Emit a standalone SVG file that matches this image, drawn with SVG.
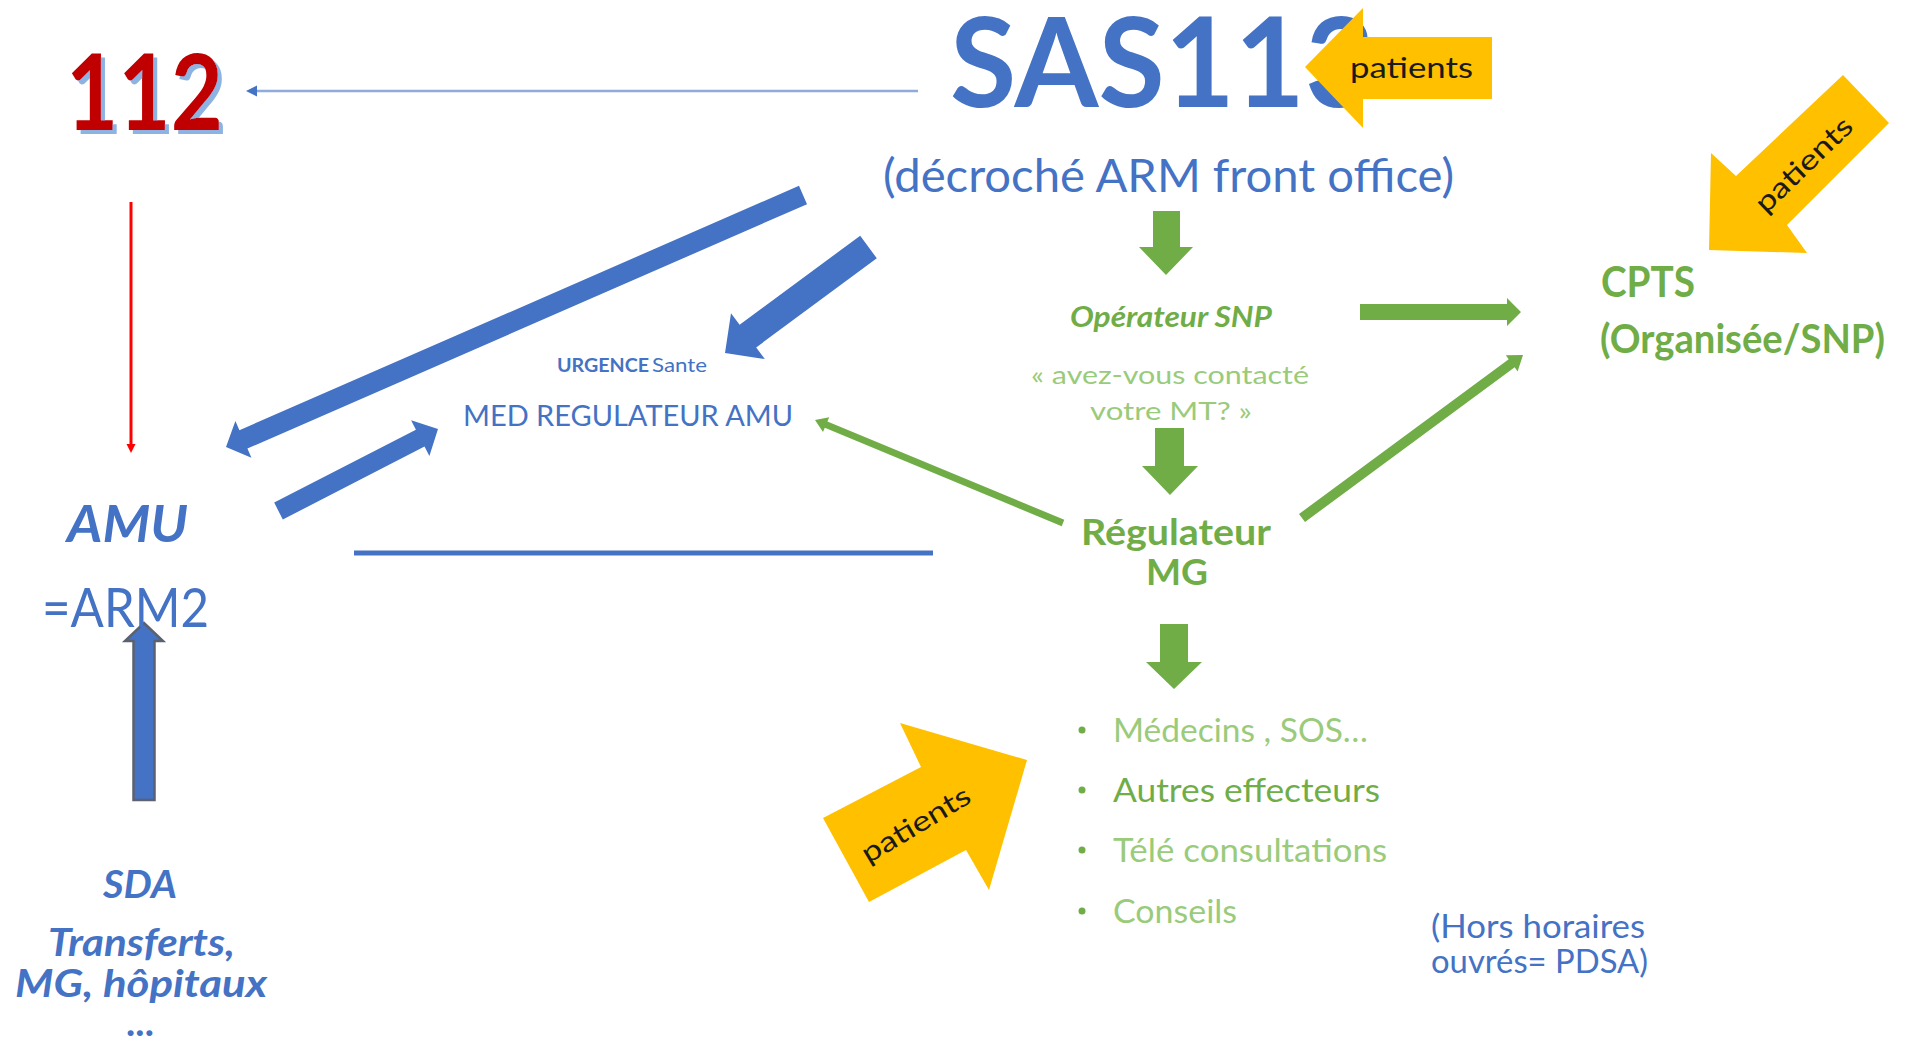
<svg xmlns="http://www.w3.org/2000/svg" width="1905" height="1041" viewBox="0 0 1905 1041">
  <style>
    text { font-family: Lato, "Liberation Sans", sans-serif; }
    .blue { fill: #4472C4; }
    .green { fill: #70AD47; }
    .lightgreen { fill: #9ACB7B; }
    .bold { font-weight: bold; }
    .ital { font-style: italic; }
    .yellow { fill: #FFC000; }
    .ptxt { fill: #1a1a1a; font-size: 28px; }
    .bluearrow { fill: #4472C4; }
    .greenarrow { fill: #70AD47; }
  </style>
  <defs>
    <!-- light blue offset shadow behind the 112 digits -->
    <filter id="blueShadow" x="-10%" y="-10%" width="130%" height="130%">
      <feFlood flood-color="#8DB3E2" result="tint"/>
      <feComposite in="tint" in2="SourceAlpha" operator="in" result="shape"/>
      <feOffset in="shape" dx="4" dy="4" result="shadow"/>
      <feMerge>
        <feMergeNode in="shadow"/>
        <feMergeNode in="SourceGraphic"/>
      </feMerge>
    </filter>
  </defs>

  <rect width="1905" height="1041" fill="#FFFFFF"/>

  <!-- connectors -->
  <g id="connectors">
    <!-- SAS113 to 112 -->
    <line x1="918" y1="91" x2="256" y2="91" stroke="#8FAADC" stroke-width="2.5"/>
    <path d="M246,91 L257,85.5 L257,96.5 Z" fill="#4472C4"/>
    <!-- 112 to AMU -->
    <line x1="131" y1="202" x2="131" y2="446" stroke="#FF0000" stroke-width="3"/>
    <path d="M131,453 L126.5,444 L135.5,444 Z" fill="#FF0000"/>
    <!-- SAS113 to AMU (long block arrow) -->
    <polygon class="bluearrow" points="799.0,185.8 807.0,204.2 247.4,448.6 251.4,457.7 226,447 235.4,421.1 239.4,430.2"/>
    <!-- SAS113 to MED REGULATEUR -->
    <polygon class="bluearrow" points="860.2,235.7 876.8,258.3 756.2,347.4 764.8,359.0 725,353 731.0,313.2 739.6,324.8"/>
    <!-- AMU to MED REGULATEUR -->
    <polygon class="bluearrow" points="274.2,502.6 415.9,429.7 411.1,420.3 438,429 429.4,455.9 424.5,446.6 282.8,519.5"/>
    <!-- AMU to Regulateur MG -->
    <line x1="354" y1="553" x2="933" y2="553" stroke="#4472C4" stroke-width="5"/>
    <!-- SDA to ARM2 -->
    <path d="M133.5,800 L133.5,641 L125,641 L144,623 L163,641 L154.5,641 L154.5,800 Z" fill="#4472C4" stroke="#5B6170" stroke-width="2.5" stroke-linejoin="miter"/>
    <!-- SAS113 down to Operateur SNP -->
    <path class="greenarrow" d="M1153,211 L1180,211 L1180,247 L1193,247 L1166,275 L1139,247 L1153,247 Z"/>
    <!-- Operateur SNP down to Regulateur MG -->
    <path class="greenarrow" d="M1155,428 L1184,428 L1184,466 L1198,466 L1170,495 L1142,466 L1155,466 Z"/>
    <!-- Regulateur MG down to effecteurs -->
    <path class="greenarrow" d="M1160,624 L1188,624 L1188,662 L1202,662 L1174,689 L1146,662 L1160,662 Z"/>
    <!-- Operateur SNP to CPTS -->
    <path class="greenarrow" d="M1360,304 L1507,304 L1507,298 L1521,312 L1507,326 L1507,320 L1360,320 Z"/>
    <!-- Regulateur MG to MED REGULATEUR -->
    <polygon class="greenarrow" points="1064.3,519.8 827.4,421.4 829.2,417.2 815,420 823.0,432.0 824.8,427.8 1061.7,526.2"/>
    <!-- Regulateur MG to CPTS -->
    <polygon class="greenarrow" points="1299.0,514.0 1508.7,359.3 1505.8,355.3 1523,355 1517.6,371.4 1514.7,367.3 1305.0,522.0"/>
  </g>

  <!-- 112 -->
  <g id="node-112">
    <text x="66" y="130" font-family="'Liberation Serif', serif" font-weight="bold" font-size="105" fill="#C00000" filter="url(#blueShadow)" textLength="157" lengthAdjust="spacingAndGlyphs">112</text>
  </g>

  <!-- SAS113 -->
  <g id="node-sas113">
    <text class="blue bold" x="950" y="107" font-size="124" textLength="425" lengthAdjust="spacingAndGlyphs">SAS113</text>
    <text class="blue" x="883" y="192" font-size="46" textLength="571" lengthAdjust="spacingAndGlyphs">(décroché ARM front office)</text>
  </g>

  <!-- patients arriving at SAS113 -->
  <g id="patients-sas">
    <polygon class="yellow" points="1305,67 1363,8 1363,37 1492,37 1492,99 1363,99 1363,128"/>
    <text class="ptxt" x="1350" y="78" font-size="30" textLength="123" lengthAdjust="spacingAndGlyphs">patients</text>
  </g>

  <!-- patients arriving at CPTS -->
  <g id="patients-cpts">
    <polygon class="yellow" points="1843,75 1889,123 1787,225 1807,253 1709,250 1711,153 1736,176"/>
    <text class="ptxt" x="0" y="9" text-anchor="middle" transform="translate(1804,165) rotate(-44)" textLength="124" lengthAdjust="spacingAndGlyphs">patients</text>
  </g>

  <!-- patients arriving at effecteurs -->
  <g id="patients-effecteurs">
    <polygon class="yellow" points="823,818 921,767 900,723 1027,760 989,890 966,850 869,902"/>
    <text class="ptxt" x="0" y="9" text-anchor="middle" transform="translate(916,825) rotate(-31)" textLength="122" lengthAdjust="spacingAndGlyphs">patients</text>
  </g>

  <!-- Operateur SNP -->
  <g id="node-operateur">
    <text class="green bold ital" x="1070" y="327" font-size="28" textLength="202" lengthAdjust="spacingAndGlyphs">Opérateur  SNP</text>
    <text class="lightgreen" x="1031" y="384" font-size="25" textLength="278" lengthAdjust="spacingAndGlyphs">« avez-vous  contacté</text>
    <text class="lightgreen" x="1090" y="420" font-size="25" textLength="162" lengthAdjust="spacingAndGlyphs">votre MT? »</text>
  </g>

  <!-- CPTS -->
  <g id="node-cpts">
    <text class="green bold" x="1601" y="297" font-size="42" textLength="94" lengthAdjust="spacingAndGlyphs">CPTS</text>
    <text class="green bold" x="1600" y="353" font-size="41" textLength="285" lengthAdjust="spacingAndGlyphs">(Organisée/SNP)</text>
  </g>

  <!-- MED REGULATEUR AMU -->
  <g id="node-med-regulateur">
    <text class="blue" x="557" y="372" font-size="19"><tspan class="bold" textLength="92" lengthAdjust="spacingAndGlyphs">URGENCE</tspan><tspan x="652" textLength="55" lengthAdjust="spacingAndGlyphs">Sante</tspan></text>
    <text class="blue" x="463" y="426" font-size="28" textLength="330" lengthAdjust="spacingAndGlyphs">MED REGULATEUR  AMU</text>
  </g>

  <!-- AMU -->
  <g id="node-amu">
    <text class="blue bold ital" x="67" y="542" font-size="51" textLength="121" lengthAdjust="spacingAndGlyphs">AMU</text>
    <text class="blue" x="42" y="627" font-size="54" textLength="167" lengthAdjust="spacingAndGlyphs">=ARM2</text>
  </g>

  <!-- SDA -->
  <g id="node-sda">
    <text class="blue bold ital" x="103" y="898" font-size="38" textLength="74" lengthAdjust="spacingAndGlyphs">SDA</text>
    <text class="blue bold ital" x="48" y="956" font-size="38" textLength="187" lengthAdjust="spacingAndGlyphs">Transferts,</text>
    <text class="blue bold ital" x="15" y="997" font-size="38" textLength="252" lengthAdjust="spacingAndGlyphs">MG, hôpitaux</text>
    <text class="blue bold ital" x="127" y="1036" font-size="38" textLength="28" lengthAdjust="spacingAndGlyphs">...</text>
  </g>

  <!-- Regulateur MG -->
  <g id="node-regulateur-mg">
    <text class="green bold" x="1081" y="545" font-size="37" textLength="190" lengthAdjust="spacingAndGlyphs">Régulateur</text>
    <text class="green bold" x="1146" y="585" font-size="37" textLength="62" lengthAdjust="spacingAndGlyphs">MG</text>
  </g>

  <!-- effecteurs list -->
  <g id="node-effecteurs">
    <circle cx="1082" cy="730" r="3.5" fill="#70AD47"/>
    <circle cx="1082" cy="790" r="3.5" fill="#70AD47"/>
    <circle cx="1082" cy="850" r="3.5" fill="#70AD47"/>
    <circle cx="1082" cy="911" r="3.5" fill="#70AD47"/>
    <text class="lightgreen" x="1113" y="742" font-size="33" textLength="255" lengthAdjust="spacingAndGlyphs">Médecins , SOS…</text>
    <text class="green" x="1113" y="802" font-size="33" textLength="267" lengthAdjust="spacingAndGlyphs">Autres effecteurs</text>
    <text class="lightgreen" x="1113" y="862" font-size="33" textLength="274" lengthAdjust="spacingAndGlyphs">Télé consultations</text>
    <text class="lightgreen" x="1113" y="923" font-size="33" textLength="124" lengthAdjust="spacingAndGlyphs">Conseils</text>
  </g>

  <!-- PDSA note -->
  <g id="node-pdsa">
    <text class="blue" x="1431" y="938" font-size="32" textLength="214" lengthAdjust="spacingAndGlyphs">(Hors horaires</text>
    <text class="blue" x="1431" y="973" font-size="32" textLength="217" lengthAdjust="spacingAndGlyphs">ouvrés= PDSA)</text>
  </g>
</svg>
